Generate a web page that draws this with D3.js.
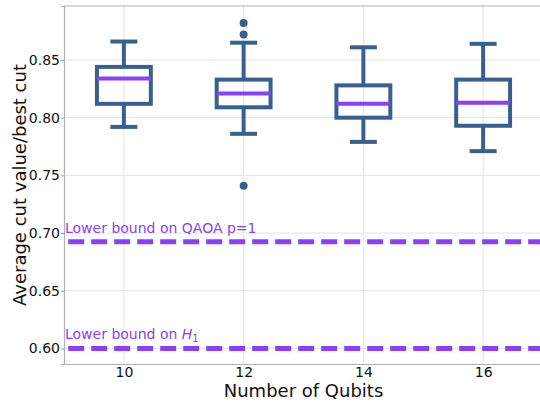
<!DOCTYPE html>
<html>
<head>
<meta charset="utf-8">
<script src="https://cdn.jsdelivr.net/npm/d3@7"></script>
<style>
  body { margin: 0; background: #fff; }
  svg { display: block; font-family: "DejaVu Sans", sans-serif; }
</style>
</head>
<body>
<div id="chart"></div>
<script>
// qubit counts on the x axis
var qubits = [10, 12, 14, 16];
// box stats: lower whisker, q1, median, q3, upper whisker
var whiskerLow = [0.792, 0.786, 0.779, 0.771];
var q1 = [0.812, 0.809, 0.800, 0.793];
var median = [0.834, 0.821, 0.812, 0.813];
var q3 = [0.844, 0.833, 0.828, 0.833];
var whiskerHigh = [0.866, 0.865, 0.861, 0.864];
// outliers as [qubits, value]
var outliers = [[12, 0.882], [12, 0.872], [12, 0.741]];

var boundValues = [0.6924, 0.6];
var boundLabels = ["Lower bound on QAOA p=1", "Lower bound on H1"];

var xTicks = [10, 12, 14, 16];
var yTicks = [0.60, 0.65, 0.70, 0.75, 0.80, 0.85];

var margin = {top: 6, right: -3, bottom: 39, left: 64},
    width = 540 - margin.left - margin.right,
    height = 403 - margin.top - margin.bottom;

var blue = "#37608f", purple = "#8a3ffc";

var svg = d3.select("#chart").append("svg")
    .attr("width", 540)
    .attr("height", 403);

var g = svg.append("g")
    .attr("transform", "translate(" + margin.left + "," + margin.top + ")");

var x = d3.scaleLinear().domain([9, 17]).range([0, width]);
var y = d3.scaleLinear().domain([0.5865, 0.8968]).range([height, 0]);

// grid
g.append("g").selectAll("line").data(xTicks).enter().append("line")
    .attr("x1", function(d) { return x(d); }).attr("x2", function(d) { return x(d); })
    .attr("y1", 0).attr("y2", height)
    .style("stroke", "#e3e3e3").style("stroke-width", 1);
g.append("g").selectAll("line").data(yTicks).enter().append("line")
    .attr("x1", 0).attr("x2", width)
    .attr("y1", function(d) { return y(d); }).attr("y2", function(d) { return y(d); })
    .style("stroke", "#e3e3e3").style("stroke-width", 1);

// axes
var yAxis = g.append("g")
    .call(d3.axisLeft(y).tickValues(yTicks).tickFormat(d3.format(".2f")).tickSize(3).tickPadding(1));
var xAxis = g.append("g")
    .attr("transform", "translate(0," + height + ")")
    .call(d3.axisBottom(x).tickValues(xTicks).tickSize(0).tickPadding(3));
[xAxis, yAxis].forEach(function(a) {
  a.select(".domain").style("stroke", "#b0b0b0").style("stroke-width", 1.2);
  a.selectAll(".tick line").style("stroke", "#999");
  a.selectAll("text").style("font-size", "14px").style("fill", "#111")
    .style("font-family", "DejaVu Sans, sans-serif");
});
g.append("line")
    .attr("x1", 0).attr("x2", width).attr("y1", 0).attr("y2", 0)
    .style("stroke", "#b0b0b0").style("stroke-width", 1.2);

// bound lines
g.append("g").selectAll("line").data(boundValues).enter().append("line")
    .attr("x1", x(9.07)).attr("x2", width)
    .attr("y1", function(d) { return y(d); }).attr("y2", function(d) { return y(d); })
    .style("stroke", purple).style("stroke-width", 5)
    .style("stroke-dasharray", "16,7");

var labels = g.append("g").selectAll("text").data(boundValues).enter().append("text")
    .attr("x", 1)
    .attr("y", function(d) { return y(d) - 9; })
    .style("fill", purple).style("font-size", "14px");
labels.each(function(d, i) {
  var t = d3.select(this);
  if (i === 0) {
    t.text(boundLabels[0]);
  } else {
    t.append("tspan").text("Lower bound on ");
    t.append("tspan").style("font-style", "italic").text("H");
    t.append("tspan").attr("dy", 3).style("font-size", "10px").text("1");
  }
});

// boxes
var boxW = 0.9, capW = 0.45;
var boxes = g.append("g").selectAll("g").data(qubits).enter().append("g");
boxes.each(function(q, i) {
  var b = d3.select(this);
  b.append("line")
    .attr("x1", x(q)).attr("x2", x(q))
    .attr("y1", y(whiskerLow[i])).attr("y2", y(q1[i]))
    .style("stroke", blue).style("stroke-width", 4);
  b.append("line")
    .attr("x1", x(q)).attr("x2", x(q))
    .attr("y1", y(q3[i])).attr("y2", y(whiskerHigh[i]))
    .style("stroke", blue).style("stroke-width", 4);
  [whiskerLow[i], whiskerHigh[i]].forEach(function(v) {
    b.append("line")
      .attr("x1", x(q - capW / 2)).attr("x2", x(q + capW / 2))
      .attr("y1", y(v)).attr("y2", y(v))
      .style("stroke", blue).style("stroke-width", 4);
  });
  b.append("rect")
    .attr("x", x(q - boxW / 2)).attr("width", x(q + boxW / 2) - x(q - boxW / 2))
    .attr("y", y(q3[i])).attr("height", y(q1[i]) - y(q3[i]))
    .style("fill", "none").style("stroke", blue).style("stroke-width", 4);
  b.append("line")
    .attr("x1", x(q - boxW / 2)).attr("x2", x(q + boxW / 2))
    .attr("y1", y(median[i])).attr("y2", y(median[i]))
    .style("stroke", purple).style("stroke-width", 4);
});

g.append("g").selectAll("circle").data(outliers).enter().append("circle")
    .attr("cx", function(d) { return x(d[0]); })
    .attr("cy", function(d) { return y(d[1]); })
    .attr("r", 4)
    .style("fill", blue);

// axis titles
svg.append("text")
    .attr("x", margin.left + x(13))
    .attr("y", 397)
    .attr("text-anchor", "middle")
    .style("font-size", "18px").style("fill", "#111")
    .text("Number of Qubits");
svg.append("text")
    .attr("transform", "translate(26," + (margin.top + height / 2) + ") rotate(-90)")
    .attr("text-anchor", "middle")
    .style("font-size", "18px").style("fill", "#111")
    .text("Average cut value/best cut");
</script>
</body>
</html>
